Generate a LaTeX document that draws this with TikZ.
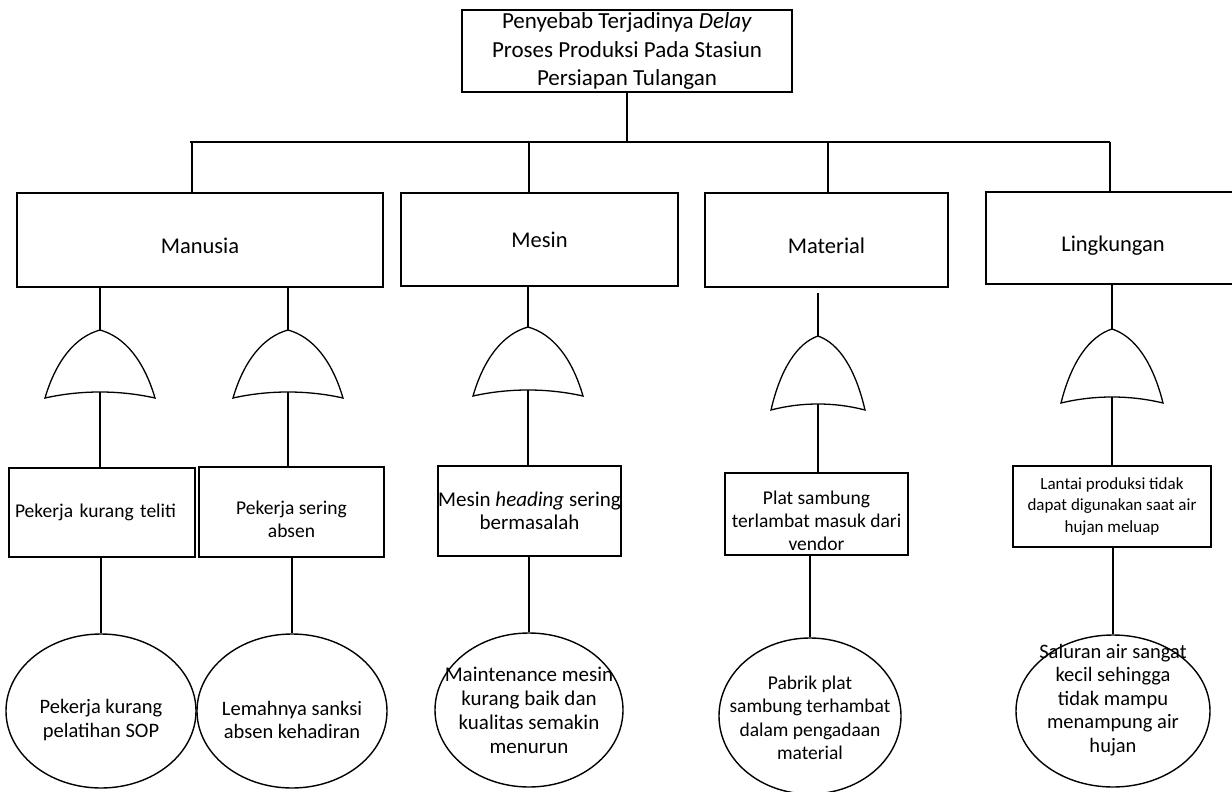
\documentclass[tikz,border=0pt]{standalone}
\usepackage{fontspec}
\setmainfont{Carlito}
\usetikzlibrary{shapes.geometric}

\begin{document}
\begin{tikzpicture}[
  x=1pt, y=-1pt,
  line width=1.4pt,
  headbox/.style={draw, align=center, inner sep=0pt,
                  font=\fontsize{23}{28.5}\selectfont},
  catbox/.style={draw, inner sep=0pt, font=\fontsize{22.5}{27}\selectfont},
  lowtext/.style={text height=27pt, text depth=0pt},
  subbox/.style={draw, align=center, inner sep=0pt,
                 font=\fontsize{19.5}{23}\selectfont},
  root/.style={draw, ellipse, inner sep=0pt},
  roottext/.style={align=center, font=\fontsize{20.5}{23.5}\selectfont},
  boldlink/.style={line width=2.8pt},
  midlink/.style={line width=2.1pt},
  pics/orgate/.style 2 args={code={
    \draw[line width=1.3pt, fill=white]
      (-#1,#2) .. controls ({-0.8*#1},{0.45*#2}) and ({-0.45*#1},{0.1*#2}) .. (0,0)
      .. controls ({0.45*#1},{0.1*#2}) and ({0.8*#1},{0.45*#2}) .. (#1,#2)
      .. controls ({0.35*#1},{#2-8}) and ({-0.35*#1},{#2-8}) .. cycle;
    \coordinate (-in) at (0,0);
    \coordinate (-out) at (0,{#2-6});
  }}
]
\useasboundingbox (0,0) rectangle (1232,792);

% Top event
\node[headbox, minimum width=330pt, minimum height=82pt] (top) at (627,51)
  {Penyebab Terjadinya \textit{Delay}\\ Proses Produksi Pada Stasiun\\ Persiapan Tulangan};

% Categories
\node[catbox, lowtext, minimum width=366pt, minimum height=94pt] (man) at (200,240) {Manusia};
\node[catbox, minimum width=277pt, minimum height=93pt] (mes) at (539.5,239.5) {Mesin};
\node[catbox, lowtext, minimum width=243pt, minimum height=94pt] (mat) at (826.5,240) {Material};
\node[catbox, lowtext, minimum width=254pt, minimum height=92pt] (lin) at (1113,238) {Lingkungan};

% Branch bar
\coordinate (bl) at (190,142);
\coordinate (br) at (1110,142);
\draw (top.south) -- (top.south |- bl);
\draw (bl) -- (br);
\foreach \c/\x in {man/192, mes/529, mat/828, lin/1110} {
  \coordinate (d-\c) at (\x,142);
  \draw (d-\c) -- (d-\c |- \c.north);
}

% OR gates
\pic (g1) at (100,330) {orgate={55}{68}};
\pic (g2) at (288,330) {orgate={55}{68}};
\pic (g3) at (528,327) {orgate={55}{69}};
\pic (g4) at (818,336) {orgate={47}{74}};
\pic (g5) at (1112,329) {orgate={51}{74}};

% Intermediate events
\node[subbox, text width=174pt, inner xsep=6pt, minimum height=89pt, align=left] (s1) at (102,512.5)
  {Pekerja kurang teliti};
\node[subbox, text height=52pt, minimum width=185pt, minimum height=90pt] (s2) at (291.5,512)
  {Pekerja sering\\ absen};
\node[subbox, minimum width=183pt, minimum height=90pt,
      font=\fontsize{21}{23}\selectfont] (s3) at (529.5,511)
  {Mesin \textit{heading} sering\\ bermasalah};
\node[subbox, text height=74pt, minimum width=183pt, minimum height=82pt] (s4) at (816.5,514)
  {Plat sambung\\ terlambat masuk dari\\ vendor};
\node[subbox, minimum width=198pt, minimum height=81pt,
      font=\fontsize{17}{21.5}\selectfont] (s5) at (1112,506.5)
  {Lantai produksi tidak\\ dapat digunakan saat air\\ hujan meluap};

% Basic events
\node[root, minimum width=190pt, minimum height=154pt,
      label={[roottext, yshift=-9pt]center:{Pekerja kurang\\ pelatihan SOP}}] (e1) at (101,711) {};
\node[root, minimum width=190pt, minimum height=154pt,
      label={[roottext, yshift=-9pt]center:{Lemahnya sanksi\\ absen kehadiran}}] (e2) at (292,711) {};
\node[root, minimum width=188pt, minimum height=154pt,
      label={[roottext, font=\fontsize{21}{24}\selectfont]center:{Maintenance mesin\\ kurang baik dan\\ kualitas semakin\\ menurun}}] (e3) at (529,710) {};
\node[root, minimum width=182pt, minimum height=156pt,
      label={[roottext, font=\fontsize{19.5}{23.5}\selectfont, yshift=-2pt]center:{Pabrik plat\\ sambung terhambat\\ dalam pengadaan\\ material}}] (e4) at (810,716) {};
\node[root, minimum width=194pt, minimum height=152pt,
      label={[roottext, yshift=11pt]center:{Saluran air sangat\\ kecil sehingga\\ tidak mampu\\ menampung air\\ hujan}}] (e5) at (1113,711) {};

% Category to gate
\draw (g1-in |- man.south) -- (g1-in);
\draw (g2-in |- man.south) -- (g2-in);
\draw (g3-in |- mes.south) -- (g3-in);
\draw[shorten <=5pt] (g4-in |- mat.south) -- (g4-in);
\draw (g5-in |- lin.south) -- (g5-in);

% Gate to intermediate event
\draw (g1-out) -- (g1-out |- s1.north);
\draw (g2-out) -- (g2-out |- s2.north);
\draw (g3-out) -- (g3-out |- s3.north);
\draw (g4-out) -- (g4-out |- s4.north);
\draw (g5-out) -- (g5-out |- s5.north);

% Intermediate to basic event
\draw[boldlink] (e1.north |- s1.south) -- (e1.north);
\draw[boldlink] (e2.north |- s2.south) -- (e2.north);
\draw (e3.north |- s3.south) -- (e3.north);
\draw[midlink] (e4.north |- s4.south) -- (e4.north);
\draw[boldlink] (e5.north |- s5.south) -- (e5.north);

\end{tikzpicture}
\end{document}
